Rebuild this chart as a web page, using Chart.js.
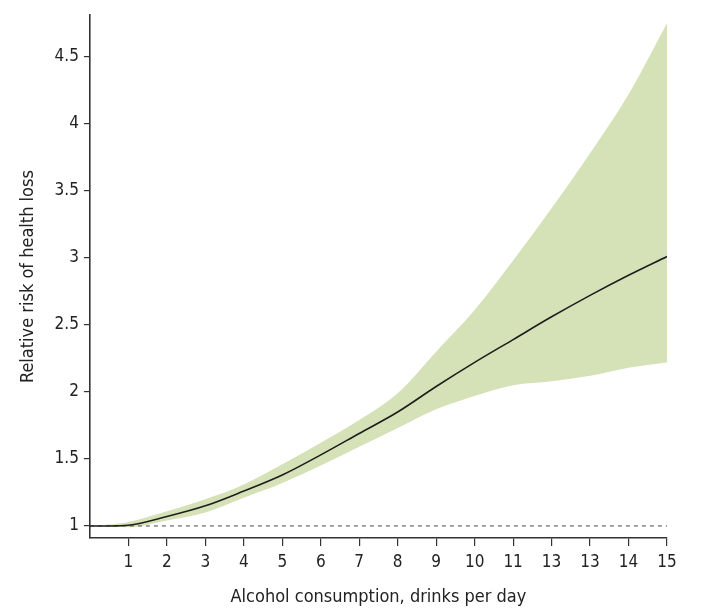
<!DOCTYPE html>
<html>
<head>
<meta charset="utf-8">
<script src="https://cdn.jsdelivr.net/npm/chart.js@4/dist/chart.umd.min.js"></script>
<style>
  html, body { margin: 0; padding: 0; background: #fff; }
  #wrap { width: 703px; height: 608px; }
</style>
</head>
<body>
<div id="wrap"><canvas id="c" width="703" height="608"></canvas></div>
<script>
const drinks  = [0, 0.5, 1, 2, 3, 4, 5, 6, 7, 8, 9, 10, 11, 12, 13, 14, 15];
const meanRR  = [1.0, 1.0, 1.005, 1.07, 1.15, 1.26, 1.38, 1.53, 1.69, 1.85, 2.04, 2.22, 2.39, 2.56, 2.72, 2.87, 3.01];
const upperCI = [1.0, 1.01, 1.03, 1.11, 1.20, 1.31, 1.46, 1.62, 1.79, 1.99, 2.30, 2.61, 2.98, 3.37, 3.78, 4.22, 4.75];
const lowerCI = [1.0, 0.995, 0.99, 1.04, 1.10, 1.21, 1.32, 1.45, 1.59, 1.73, 1.87, 1.97, 2.05, 2.08, 2.12, 2.18, 2.22];
const xTickValues = [1, 2, 3, 4, 5, 6, 7, 8, 9, 10, 11, 12, 13, 14, 15];
const xTickLabels = ["1", "2", "3", "4", "5", "6", "7", "8", "9", "10", "11", "13", "13", "14", "15"];
const yTickValues = [1, 1.5, 2, 2.5, 3, 3.5, 4, 4.5];
const yTickLabels = ["1", "1.5", "2", "2.5", "3", "3.5", "4", "4.5"];
const referenceLevel = 1;

const pts = arr => drinks.map((d, i) => ({ x: d, y: arr[i] }));
const FONT = "'Liberation Sans Narrow', 'DejaVu Sans Condensed', 'Roboto', sans-serif";

new Chart(document.getElementById('c'), {
  type: 'line',
  data: {
    datasets: [
      {
        label: 'upper',
        data: pts(upperCI),
        borderWidth: 0,
        borderColor: 'rgba(0,0,0,0)',
        backgroundColor: '#d5e1b6',
        pointRadius: 0,
        fill: '+1',
        cubicInterpolationMode: 'monotone',
        order: 3
      },
      {
        label: 'lower',
        data: pts(lowerCI),
        borderWidth: 0,
        borderColor: 'rgba(0,0,0,0)',
        pointRadius: 0,
        fill: false,
        cubicInterpolationMode: 'monotone',
        order: 2
      },
      {
        label: 'ref',
        data: [{ x: drinks[0], y: referenceLevel }, { x: drinks[drinks.length - 1], y: referenceLevel }],
        borderColor: '#666',
        borderWidth: 1.2,
        borderDash: [4, 4],
        pointRadius: 0,
        fill: false,
        order: 1
      },
      {
        label: 'mean',
        data: pts(meanRR),
        borderColor: '#1e1e1e',
        borderWidth: 1.6,
        pointRadius: 0,
        fill: false,
        cubicInterpolationMode: 'monotone',
        order: 0
      }
    ]
  },
  options: {
    responsive: false,
    animation: false,
    devicePixelRatio: 1,
    layout: { padding: { top: 15, right: 36, left: 18, bottom: 0 } },
    plugins: { legend: { display: false }, tooltip: { enabled: false } },
    scales: {
      x: {
        type: 'linear',
        min: 0,
        max: 15,
        afterBuildTicks: s => { s.ticks = xTickValues.map(v => ({ value: v })); },
        ticks: {
          autoSkip: false,
          maxRotation: 0,
          color: '#222',
          font: { family: FONT, size: 17 },
          padding: 6,
          callback: v => { const i = xTickValues.indexOf(v); return i >= 0 ? xTickLabels[i] : ''; }
        },
        grid: { drawOnChartArea: false, drawTicks: true, tickLength: 8, color: '#333', lineWidth: 1.2 },
        border: { display: true, color: '#333', width: 1.6 },
        title: {
          display: true,
          text: 'Alcohol consumption, drinks per day',
          color: '#222',
          font: { family: FONT, size: 18 },
          padding: { top: 8, bottom: 0 }
        }
      },
      y: {
        type: 'linear',
        min: 0.91,
        max: 4.81,
        afterBuildTicks: s => { s.ticks = yTickValues.map(v => ({ value: v })); },
        ticks: {
          color: '#222',
          font: { family: FONT, size: 17 },
          padding: 5,
          callback: v => { const i = yTickValues.indexOf(v); return i >= 0 ? yTickLabels[i] : ''; }
        },
        grid: { drawOnChartArea: false, drawTicks: true, tickLength: 6, color: '#333', lineWidth: 1.2 },
        border: { display: true, color: '#333', width: 1.6 },
        title: {
          display: true,
          text: 'Relative risk of health loss',
          color: '#222',
          font: { family: FONT, size: 18 },
          padding: { top: 0, bottom: 10 }
        }
      }
    }
  }
});
</script>
</body>
</html>
